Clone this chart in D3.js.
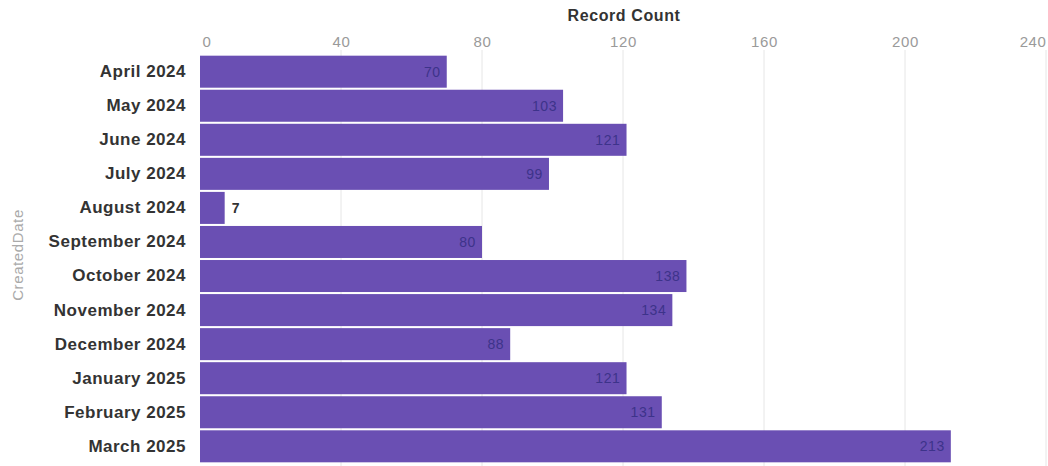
<!DOCTYPE html>
<html><head><meta charset="utf-8">
<script src="https://cdn.jsdelivr.net/npm/d3@7"></script>
<style>body{margin:0;background:#fff}svg{display:block}</style>
</head><body><svg id="c" width="1048" height="466"></svg>
<script>
const categories = ["April 2024","May 2024","June 2024","July 2024","August 2024","September 2024","October 2024","November 2024","December 2024","January 2025","February 2025","March 2025"];
const values = [70,103,121,99,7,80,138,134,88,121,131,213];
const tickValues = [0,40,80,120,160,200,240];
const xTitle = "Record Count";
const yTitle = "CreatedDate";

const FONT = "Liberation Sans, Arial, sans-serif";
const svg = d3.select("#c");
const m = {left:200, top:55};
const H = 466;
const x = d3.scaleLinear().domain([0,240]).range([m.left, m.left + 240*3.525]);
const y = d3.scaleBand().domain(categories).range([m.top, m.top + 12*34]).paddingInner(0.06).paddingOuter(0.02);

// gridlines
svg.append("g").selectAll("line").data(tickValues.slice(1)).join("line")
  .attr("x1", d=>x(d)).attr("x2", d=>x(d))
  .attr("y1", 50).attr("y2", H)
  .attr("stroke", "#e6e6e6").attr("stroke-width", 1);

// axis tick labels
const xa = svg.append("g").attr("transform", `translate(0,${m.top-8})`)
  .call(d3.axisTop(x).tickValues(tickValues).tickSize(0).tickPadding(0));
xa.select(".domain").remove();
xa.selectAll("text").attr("font-family",FONT).attr("font-size",15).attr("letter-spacing",0.6).attr("fill","#9a9a9a")
  .attr("text-anchor", d => d===0 ? "start" : (d===240 ? "end" : "middle"))
  .attr("dx", d => d===0 ? 2 : 0);

svg.append("text").attr("x", 624).attr("y", 21).attr("text-anchor","middle")
  .attr("font-family",FONT).attr("font-size",16).attr("font-weight","bold").attr("letter-spacing",0.6)
  .attr("fill","#333").text(xTitle);

svg.append("text").attr("transform","translate(23,255) rotate(-90)").attr("text-anchor","middle")
  .attr("font-family",FONT).attr("font-size",15).attr("letter-spacing",0.6)
  .attr("fill","#aaaaaa").text(yTitle);

// bars
svg.append("g").selectAll("rect").data(values).join("rect")
  .attr("x", x(0)).attr("y", (d,i)=>y(categories[i]))
  .attr("width", d=>x(d)-x(0)).attr("height", y.bandwidth())
  .attr("fill", "#6a4fb3");

// category labels
const ya = svg.append("g").attr("transform", `translate(${m.left-14},0)`)
  .call(d3.axisLeft(y).tickSize(0).tickPadding(0));
ya.select(".domain").remove();
ya.selectAll("text").attr("font-family",FONT).attr("font-size",17).attr("letter-spacing",0.5)
  .attr("font-weight","bold").attr("fill","#333");

// value labels
const inside = d => (x(d)-x(0)) > 30;
svg.append("g").selectAll("text").data(values).join("text")
  .attr("x", d => inside(d) ? x(d)-6 : x(d)+7)
  .attr("y", (d,i)=>y(categories[i]) + y.bandwidth()/2)
  .attr("dy","0.36em")
  .attr("text-anchor", d => inside(d) ? "end" : "start")
  .attr("font-family",FONT).attr("font-size",14).attr("letter-spacing",0.6)
  .attr("font-weight", d => inside(d) ? "normal" : "bold")
  .attr("fill", d => inside(d) ? "#3d338a" : "#333")
  .text(d=>d);
</script></body></html>
